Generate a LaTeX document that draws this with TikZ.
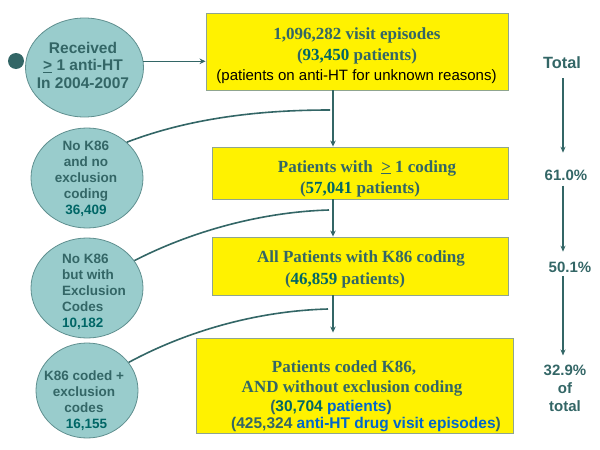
\documentclass[tikz,border=0pt]{standalone}
\usepackage{fontspec}
\setmainfont{Liberation Serif}
\setsansfont{Liberation Sans}
\usetikzlibrary{shapes.geometric,arrows.meta}
\definecolor{fillc}{HTML}{99CCCC}
\definecolor{edgec}{HTML}{5F8F8F}
\definecolor{txtc}{HTML}{336666}
\definecolor{numc}{HTML}{006666}
\definecolor{bluec}{HTML}{0066CC}
\definecolor{boxedge}{HTML}{8FA58F}
\definecolor{linec}{HTML}{336666}
\begin{document}
\begin{tikzpicture}[x=1pt,y=-1pt,
  circ/.style={ellipse, fill=fillc, draw=edgec, line width=0.8pt, inner sep=0pt},
  dotc/.style={circle, fill=linec, inner sep=0pt, minimum size=16pt},
  ctxt/.style={inner sep=0pt, align=center, text=txtc, font=\sffamily\bfseries\fontsize{13.5}{16}\selectfont},
  box/.style={draw=boxedge, fill=yellow, line width=0.9pt, inner sep=0pt},
  sline/.style={inner sep=0pt, anchor=base, text=txtc, font=\rmfamily\bfseries\fontsize{17}{20}\selectfont},
  aline/.style={inner sep=0pt, anchor=base, text=txtc, font=\sffamily\bfseries\fontsize{15.5}{18}\selectfont},
  rtxt/.style={inner sep=0pt, text=txtc, font=\sffamily\bfseries\fontsize{15}{18}\selectfont},
  arr/.style={draw=linec, line width=1.6pt, -{Stealth[length=6pt,width=5.5pt]}},
  rarr/.style={draw=linec, line width=1.2pt, -{Stealth[length=6pt,width=5pt]}},
  conn/.style={draw=linec, line width=1.6pt}
]
\useasboundingbox (0,0) rectangle (600,450);

% boxes
\node[box, minimum width=302pt, minimum height=77pt] (b1) at (357,51.5) {};
\node[box, minimum width=296pt, minimum height=52pt] (b2) at (360,173) {};
\node[box, minimum width=296pt, minimum height=58pt] (b3) at (360,266) {};
\node[box, minimum width=317pt, minimum height=95pt] (b4) at (354.5,385.5) {};

% box texts
\node[sline] (b1l1) at (357,39) {1,096,282 visit episodes};
\node[sline] (b1l2) at (357,60) {({\color{numc}93,450} patients)};
\node[inner sep=0pt, anchor=base, font=\sffamily\fontsize{15}{18}\selectfont] (b1l3) at (356.5,80.5) {(patients on anti-HT for unknown reasons)};
\node[sline] (b2l1) at (367,172) {Patients with\ \ \underline{>} 1 coding};
\node[sline] (b2l2) at (360,193) {({\color{numc}57,041} patients)};
\node[sline] (b3l1) at (361,262) {All Patients with K86 coding};
\node[sline] (b3l2) at (345,284) {({\color{numc}46,859} patients)};
\node[sline] (b4l1) at (344,372) {Patients coded K86,};
\node[sline] (b4l2) at (352,392) {AND without exclusion coding};
\node[aline] (b4l3) at (331,411.5) {({\color{numc}30,704} {\color{bluec}patients})};
\node[aline] (b4l4) at (366,428.5) {(425,324 {\color{bluec}anti-HT drug visit episodes})};

% circles
\node[dotc] (d) at (16,61) {};
\node[circ, minimum width=118pt, minimum height=99pt] (c1) at (84.5,67.5) {};
\node[ctxt, font=\sffamily\bfseries\fontsize{15.5}{17.5}\selectfont] (t1) at (83,65) {Received\\\underline{>} 1 anti-HT\\In 2004-2007};
\node[circ, minimum width=112pt, minimum height=100pt] (c2) at (87,178) {};
\node[ctxt] (t2) at (86,179) {No K86\\and no\\exclusion\\coding\\{\color{numc}36,409}};
\node[circ, minimum width=112pt, minimum height=100pt] (c3) at (87,288) {};
\node[ctxt, align=left, anchor=west] (t3) at (62,291.5) {No K86\\but with\\Exclusion\\Codes\\{\color{numc}10,182}};
\node[circ, minimum width=102pt, minimum height=95pt] (c4) at (87,390.5) {};
\node[ctxt] (t4) at (84,400.5) {K86 coded +\\exclusion\\codes\\\hspace*{5pt}{\color{numc}16,155}};

% right column
\node[rtxt, anchor=base, font=\sffamily\bfseries\fontsize{16.3}{19}\selectfont] (tot) at (562,68) {Total};
\node[rtxt, anchor=base] (p1) at (566,180.4) {61.0\%};
\node[rtxt, anchor=base] (p2) at (570,272.4) {50.1\%};
\node[rtxt, align=center] (p3) at (565,388) {32.9\%\\of\\total};

% connectors
\coordinate (jx) at (333,0);
\coordinate (rx) at (563,0);
\coordinate (j1) at (330,110);
\coordinate (j2) at (329,210);
\coordinate (j3) at (328,309);

\draw[arr] (c1.6) -- (c1.6 -| b1.west);
\draw[arr] (b1.south -| jx) -- (b2.north -| jx);
\draw[arr] (b2.south -| jx) -- (b3.north -| jx);
\draw[arr, shorten >=5pt] (b3.south -| jx) -- (b4.north -| jx);

\draw[conn] (c2.42) .. controls (190,118) and (260,110) .. (j1);
\draw[conn] (c3.30) .. controls (190,232) and (260,212) .. (j2);
\draw[conn] (c4.34) .. controls (185,332) and (255,311) .. (j3);

\draw[rarr, shorten <=10pt, shorten >=17pt] (tot.south -| rx) -- (p1.north -| rx);
\draw[rarr, shorten <=5pt, shorten >=10pt] (p1.south -| rx) -- (p2.north -| rx);
\draw[rarr, shorten <=3pt, shorten >=9pt] (p2.south -| rx) -- (p3.north -| rx);
\end{tikzpicture}
\end{document}
